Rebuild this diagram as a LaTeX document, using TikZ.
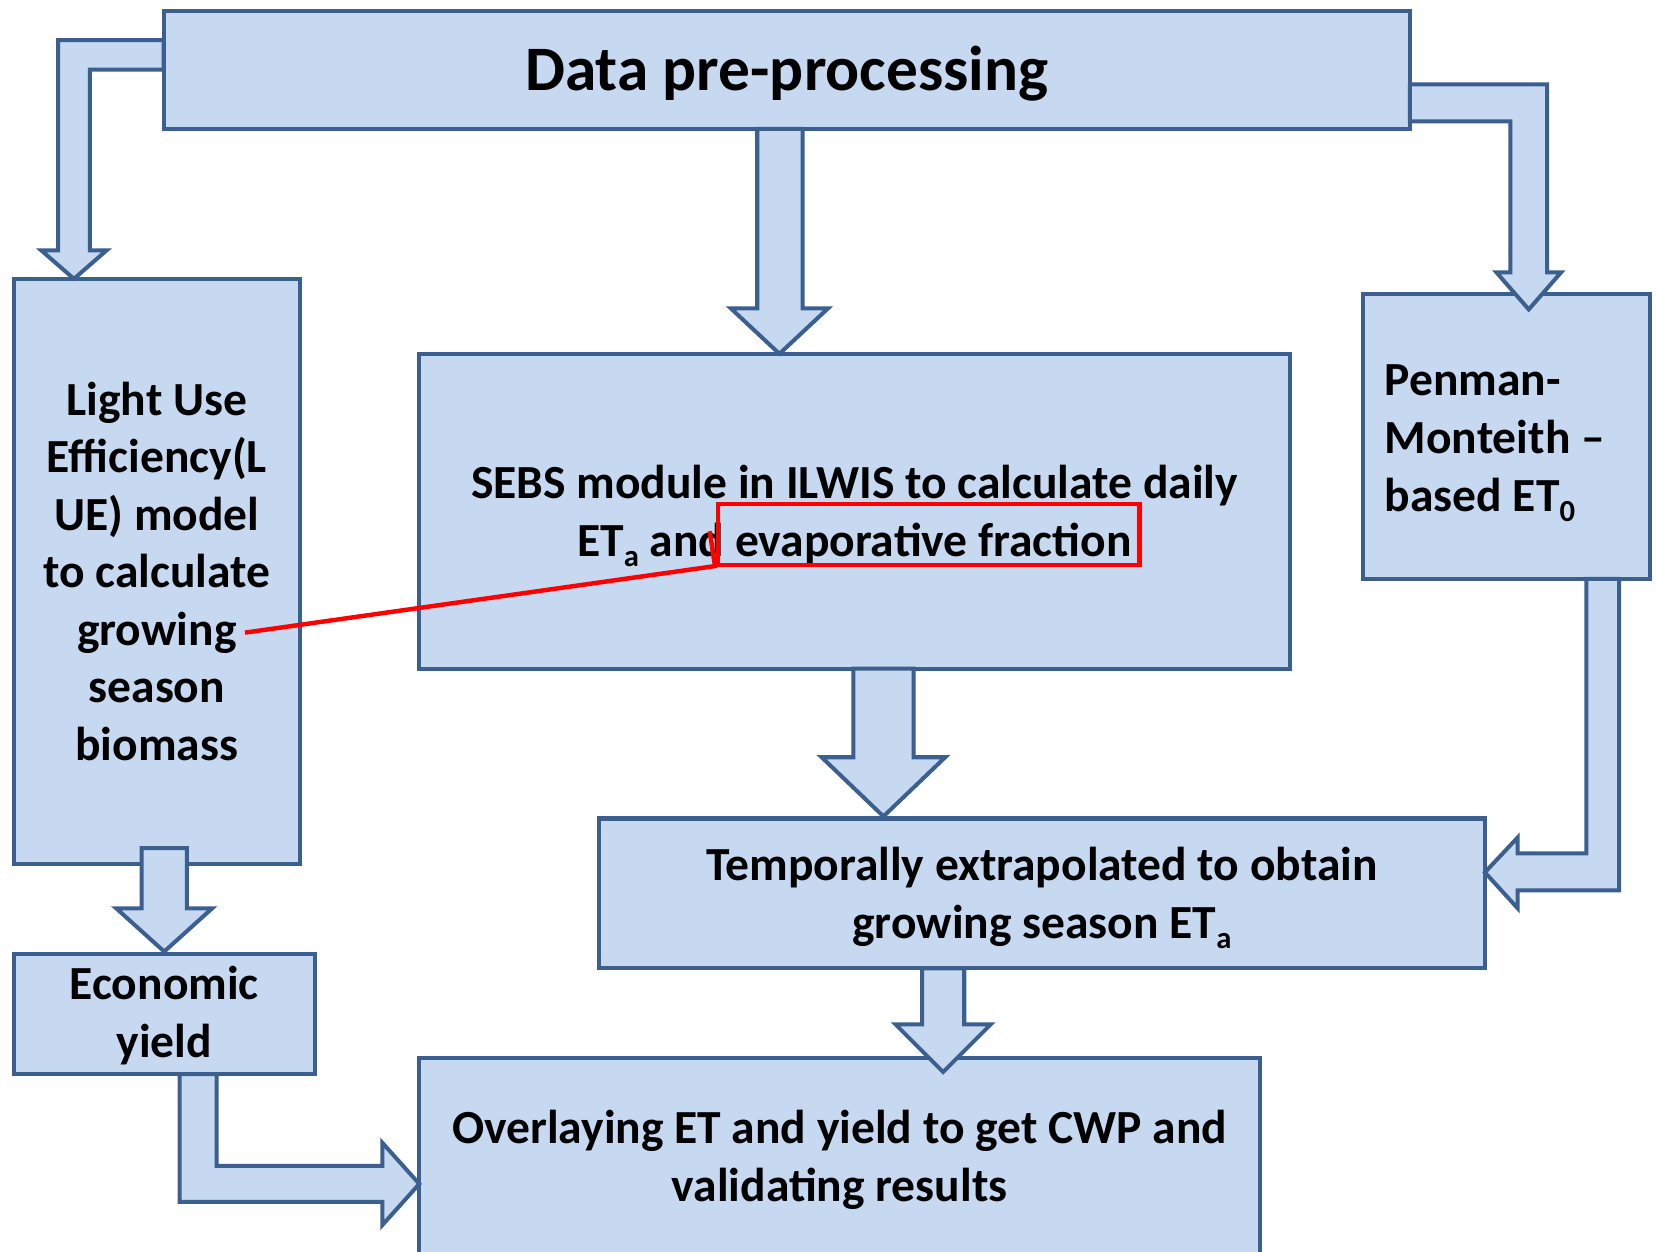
\documentclass[tikz,border=0pt]{standalone}
\usepackage{fontspec}
\setmainfont{Carlito}
\definecolor{bfill}{HTML}{C6D9F1}
\definecolor{bdraw}{HTML}{3B5F8E}
\definecolor{redc}{HTML}{FF0000}
\newcommand\lineup[1]{\rule{0pt}{#1}}
\newcommand\lowsub[1]{\raisebox{-0.22em}[0pt][0pt]{\fontsize{29}{29}\selectfont #1}}
\begin{document}
\begin{tikzpicture}[x=1pt,y=-1pt,
  box/.style={draw=bdraw, fill=bfill, line width=3.8pt, inner sep=0pt, align=center,
    font=\fontsize{45}{54.5}\selectfont\bfseries},
  boxtext/.style={inner sep=0pt, align=left, font=\fontsize{45}{54.5}\selectfont\bfseries},
  blockarrow/.style={draw=bdraw, fill=bfill, line width=3.8pt, line join=miter},
  hl/.style={draw=redc, line width=4.2pt}]
\useasboundingbox (0,0) rectangle (1568,1185);
\clip (0,0) rectangle (1568,1185);

% boxes
\node[box, minimum width=1180pt, minimum height=112pt,
  font=\fontsize{60}{72}\selectfont\bfseries] (top) at (745,66) {\lineup{49pt}Data pre-processing};
\node[box, minimum width=271pt, minimum height=554pt] (lue) at (148.5,541)
  {Light Use\\Efficiency(L\\UE) model\\to calculate\\growing\\season\\biomass};
\node[box, minimum width=824pt, minimum height=298pt] (sebs) at (809,484)
  {\lineup{37.5pt}SEBS module in ILWIS to calculate daily\\ET\lowsub{a} and evaporative fraction};
\node[box, minimum width=271pt, minimum height=270pt] (pen) at (1426.5,413) {};
\node[boxtext, anchor=west] (pentext) at (1311,415)
  {Penman-\\Monteith –\\based ET\lowsub{0}};
\node[box, minimum width=839pt, minimum height=142pt] (temp) at (986.5,846)
  {\lineup{37.5pt}Temporally extrapolated to obtain\\growing season ET\lowsub{a}};
\node[box, minimum width=285pt, minimum height=114pt] (econ) at (155.5,960)
  {\lineup{35pt}Economic\\yield};
\node[box, minimum width=796pt, minimum height=186pt] (over) at (795,1095)
  {\lineup{37.5pt}Overlaying ET and yield to get CWP and\\validating results};

% block arrows
% top -> LUE
\draw[blockarrow] (155,38) -- (55,38) -- (55,237) -- (39,237) -- (70,264) -- (101,237)
  -- (85,237) -- (85,66) -- (155,66) -- cycle;
% top -> SEBS
\draw[blockarrow] (717,122) -- (717,292) -- (692,292) -- (738,335) -- (784,292)
  -- (760,292) -- (760,122) -- cycle;
% top -> Penman
\draw[blockarrow] (1335,80) -- (1465,80) -- (1465,258) -- (1478,258) -- (1447.5,293)
  -- (1417,258) -- (1430,258) -- (1430,115) -- (1335,115) -- cycle;
% SEBS -> temp
\draw[blockarrow] (808,633) -- (808,717) -- (778,717) -- (836.5,773) -- (895,717)
  -- (865,717) -- (865,633) -- cycle;
% Penman -> temp
\draw[blockarrow] (1502,548) -- (1533,548) -- (1533,843) -- (1437,843) -- (1437,860)
  -- (1406,826) -- (1437,793) -- (1437,808) -- (1502,808) -- cycle;
% temp -> over
\draw[blockarrow] (873,917) -- (873,970) -- (848,970) -- (893,1015) -- (938,970)
  -- (913,970) -- (913,917) -- cycle;
% LUE -> econ
\draw[blockarrow] (134,803) -- (134,860) -- (110,860) -- (155.5,901) -- (201,860)
  -- (177,860) -- (177,803) -- cycle;
% econ -> over
\draw[blockarrow] (170,1017) -- (205,1017) -- (205,1104) -- (362,1104) -- (362,1082)
  -- (397,1121) -- (362,1160) -- (362,1138) -- (170,1138) -- cycle;

% red highlight
\node[hl, inner sep=0pt, minimum width=399pt, minimum height=58pt] (hlbox) at (879.5,506) {};
\coordinate (hlstart) at (232,599);
\coordinate (hlbend) at (677,536);
\draw[hl, line join=miter] (hlstart) -- (hlbend) -- (672,503);
\end{tikzpicture}
\end{document}
